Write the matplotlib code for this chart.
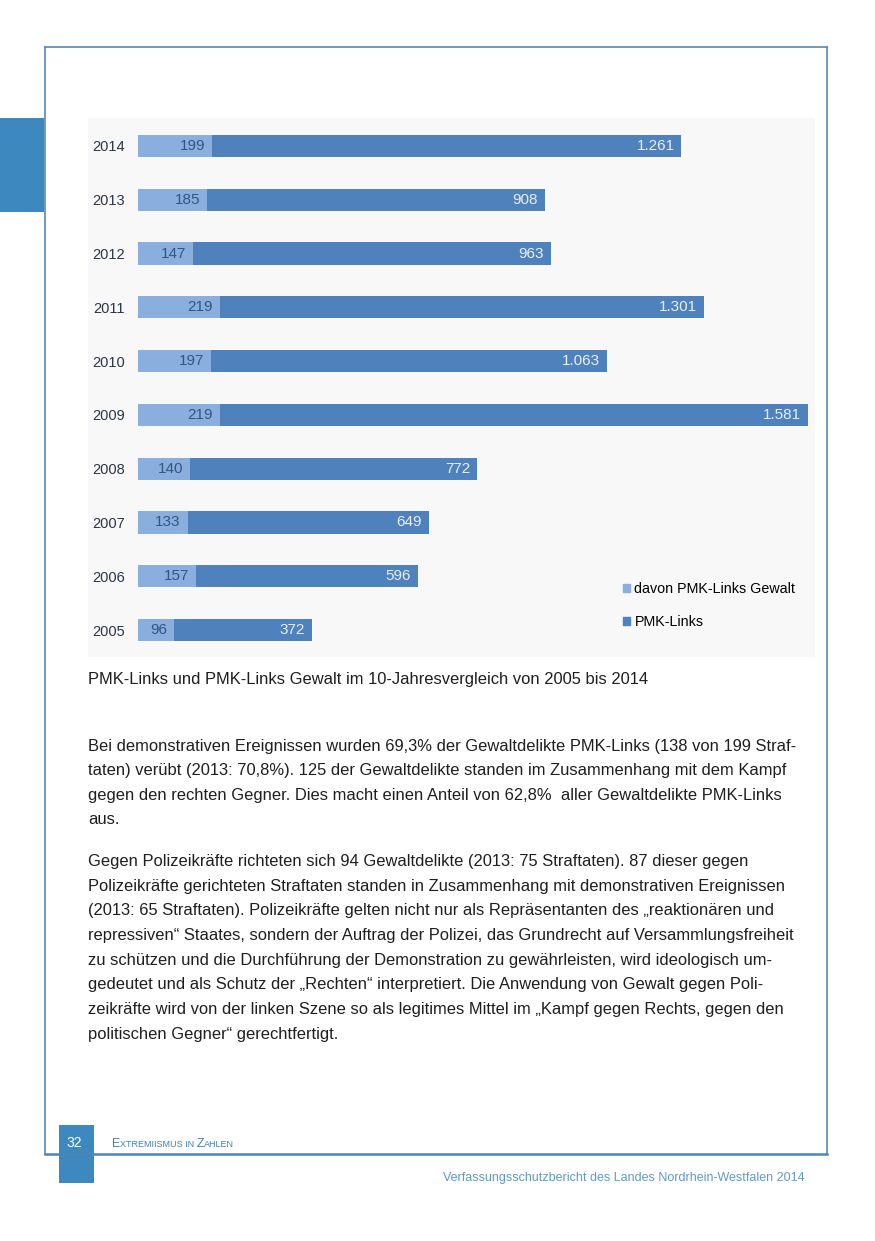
import matplotlib
matplotlib.use("Agg")
import matplotlib.pyplot as plt
from matplotlib.patches import Rectangle
from matplotlib.lines import Line2D

plt.rcParams['font.family'] = ['Liberation Sans', 'DejaVu Sans']

W, H = 875, 1241

# data
years = [2005, 2006, 2007, 2008, 2009, 2010, 2011, 2012, 2013, 2014]
gewalt = [96, 157, 133, 140, 219, 197, 219, 147, 185, 199]
pmk_links = [372, 596, 649, 772, 1581, 1063, 1301, 963, 908, 1261]

caption = "PMK-Links und PMK-Links Gewalt im 10-Jahresvergleich von 2005 bis 2014"
para1 = [
    "Bei demonstrativen Ereignissen wurden 69,3% der Gewaltdelikte PMK-Links (138 von 199 Straf-",
    "taten) verübt (2013: 70,8%). 125 der Gewaltdelikte standen im Zusammenhang mit dem Kampf",
    "gegen den rechten Gegner. Dies macht einen Anteil von 62,8%  aller Gewaltdelikte PMK-Links",
    "aus.",
]
para2 = [
    "Gegen Polizeikräfte richteten sich 94 Gewaltdelikte (2013: 75 Straftaten). 87 dieser gegen",
    "Polizeikräfte gerichteten Straftaten standen in Zusammenhang mit demonstrativen Ereignissen",
    "(2013: 65 Straftaten). Polizeikräfte gelten nicht nur als Repräsentanten des „reaktionären und",
    "repressiven“ Staates, sondern der Auftrag der Polizei, das Grundrecht auf Versammlungsfreiheit",
    "zu schützen und die Durchführung der Demonstration zu gewährleisten, wird ideologisch um-",
    "gedeutet und als Schutz der „Rechten“ interpretiert. Die Anwendung von Gewalt gegen Poli-",
    "zeikräfte wird von der linken Szene so als legitimes Mittel im „Kampf gegen Rechts, gegen den",
    "politischen Gegner“ gerechtfertigt.",
]

light = '#8aafdf'
dark = '#4f81bd'
frame = '#5a88aa'
tab = '#3e88c0'


def fx(x):
    return x / W


def fy(y):
    return 1 - y / H


fig = plt.figure(figsize=(W / 100, H / 100), dpi=100)

# page decorations
fig.add_artist(Rectangle((fx(0), fy(212)), fx(44), 94 / H, color=tab, lw=0))
fig.add_artist(Line2D([fx(45), fx(45)], [fy(47), fy(1154)], color=frame, lw=1.2))
fig.add_artist(Line2D([fx(827), fx(827)], [fy(47), fy(1154)], color=frame, lw=1.2))
fig.add_artist(Line2D([fx(45), fx(827)], [fy(47), fy(47)], color=frame, lw=1.2))
fig.add_artist(Line2D([fx(45), fx(827)], [fy(1154), fy(1154)], color='#4a86b8', lw=1.8))
fig.add_artist(Rectangle((fx(59), fy(1183)), 35 / W, 58 / H, color=tab, lw=0))

# chart background
fig.add_artist(Rectangle((fx(88), fy(657)), 727 / W, 539 / H, color='#f8f8f8', lw=0,
                         zorder=-1))

ax = fig.add_axes([fx(138), fy(657), 670 / W, 538 / H])
ax.set_zorder(2)
ax.patch.set_alpha(0)
pos = list(range(len(years)))
b1 = ax.barh(pos, gewalt, height=0.41, color=light, label='davon PMK-Links Gewalt')
b2 = ax.barh(pos, pmk_links, left=gewalt, height=0.41, color=dark, label='PMK-Links')
ax.set_xlim(0, 1800)
ax.set_ylim(-0.5, len(years) - 0.5)
ax.set_yticks(pos, [str(y) for y in years])
ax.tick_params(axis='y', length=0, pad=9.5, labelsize=10.5, labelcolor='#2b3548')
ax.set_xticks([])
for s in ax.spines.values():
    s.set_visible(False)

for i in pos:
    ax.annotate(str(gewalt[i]), (gewalt[i], i), xytext=(-5, 0), textcoords='offset points',
                ha='right', va='center', fontsize=11, color='#34557f')
    tot = gewalt[i] + pmk_links[i]
    ax.annotate(f"{pmk_links[i]:,}".replace(",", "."), (tot, i), xytext=(-5, 0),
                textcoords='offset points', ha='right', va='center', fontsize=11,
                color='#e8eef6')

handles = [Rectangle((0, 0), 1, 1, color=light), Rectangle((0, 0), 1, 1, color=dark)]
fig.legend(handles, ['davon PMK-Links Gewalt', 'PMK-Links'], loc='upper left',
           bbox_to_anchor=(fx(623), fy(582)), frameon=False, fontsize=10.3,
           handlelength=0.5, handleheight=0.5, handletextpad=0.3, labelspacing=1.35,
           borderpad=0, borderaxespad=0)

# caption and body text
fs = 11.9
tc = '#1e1e1e'
fig.text(fx(88), fy(684), caption, fontsize=fs, color=tc, va='baseline')
for k, line in enumerate(para1):
    fig.text(fx(88), fy(751 + 24.5 * k), line, fontsize=fs, color=tc, va='baseline')
for k, line in enumerate(para2):
    fig.text(fx(88), fy(866 + 24.7 * k), line, fontsize=fs, color=tc, va='baseline')

# footer
fig.text(fx(66), fy(1147), "32", fontsize=10, color='white', va='baseline')
renderer = fig.canvas.get_renderer()
x = 112
for s, size in [("E", 8.8), ("XTREMIISMUS IN ", 6.5), ("Z", 8.8), ("AHLEN", 6.5)]:
    t = fig.text(fx(x), fy(1147), s, fontsize=size, color='#3f80b8', va='baseline')
    x += t.get_window_extent(renderer).width
fig.text(fx(443), fy(1181), "Verfassungsschutzbericht des Landes Nordrhein-Westfalen 2014",
         fontsize=9.0, color='#5d9acb', va='baseline')

fig.savefig("out.png", dpi=100)
